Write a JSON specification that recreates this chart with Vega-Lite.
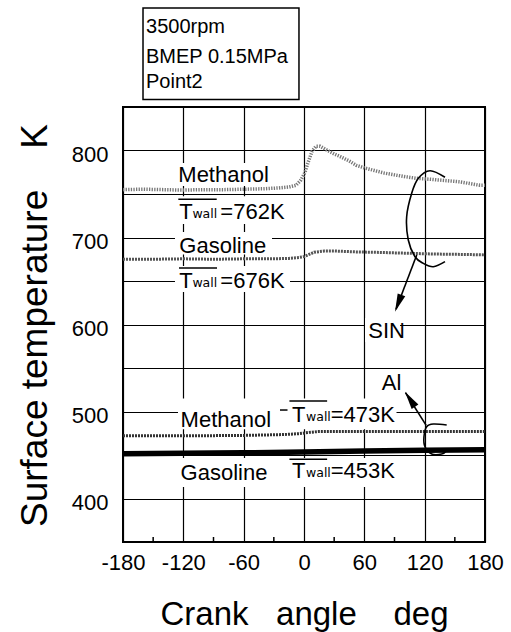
{
  "$schema": "https://vega.github.io/schema/vega-lite/v6.json",
  "width": 362,
  "height": 435,
  "autosize": {"type": "none"},
  "padding": {"left": 123, "top": 107, "right": 26, "bottom": 90},
  "background": "white",
  "config": {
    "view": {"stroke": "black", "strokeWidth": 2},
    "font": "Liberation Sans",
    "text": {"font": "Liberation Sans", "color": "black"}
  },
  "datasets": {
    "curves": [
      {"s": "MeSIN", "a": -180, "t": 755}, {"s": "MeSIN", "a": -160, "t": 755.5}, {"s": "MeSIN", "a": -140, "t": 755}, {"s": "MeSIN", "a": -120, "t": 754.5}, {"s": "MeSIN", "a": -100, "t": 755}, {"s": "MeSIN", "a": -80, "t": 755}, {"s": "MeSIN", "a": -60, "t": 755.5}, {"s": "MeSIN", "a": -40, "t": 756}, {"s": "MeSIN", "a": -25, "t": 757}, {"s": "MeSIN", "a": -15, "t": 758}, {"s": "MeSIN", "a": -8, "t": 760}, {"s": "MeSIN", "a": -3, "t": 766}, {"s": "MeSIN", "a": 1, "t": 775}, {"s": "MeSIN", "a": 4, "t": 786}, {"s": "MeSIN", "a": 8, "t": 799}, {"s": "MeSIN", "a": 12, "t": 805}, {"s": "MeSIN", "a": 16, "t": 805}, {"s": "MeSIN", "a": 22, "t": 801}, {"s": "MeSIN", "a": 30, "t": 796}, {"s": "MeSIN", "a": 36, "t": 793}, {"s": "MeSIN", "a": 45, "t": 788}, {"s": "MeSIN", "a": 52, "t": 783}, {"s": "MeSIN", "a": 60, "t": 780}, {"s": "MeSIN", "a": 70, "t": 777}, {"s": "MeSIN", "a": 80, "t": 774}, {"s": "MeSIN", "a": 90, "t": 772}, {"s": "MeSIN", "a": 100, "t": 770}, {"s": "MeSIN", "a": 112, "t": 768}, {"s": "MeSIN", "a": 125, "t": 767}, {"s": "MeSIN", "a": 135, "t": 766}, {"s": "MeSIN", "a": 145, "t": 765}, {"s": "MeSIN", "a": 155, "t": 764}, {"s": "MeSIN", "a": 165, "t": 762}, {"s": "MeSIN", "a": 175, "t": 760}, {"s": "MeSIN", "a": 180, "t": 760},
      {"s": "GaSIN", "a": -180, "t": 675}, {"s": "GaSIN", "a": -150, "t": 675}, {"s": "GaSIN", "a": -120, "t": 675.5}, {"s": "GaSIN", "a": -90, "t": 675}, {"s": "GaSIN", "a": -60, "t": 675.5}, {"s": "GaSIN", "a": -30, "t": 675.5}, {"s": "GaSIN", "a": -15, "t": 676}, {"s": "GaSIN", "a": -5, "t": 677}, {"s": "GaSIN", "a": 0, "t": 678}, {"s": "GaSIN", "a": 5, "t": 680.5}, {"s": "GaSIN", "a": 10, "t": 683}, {"s": "GaSIN", "a": 20, "t": 684.5}, {"s": "GaSIN", "a": 30, "t": 684.5}, {"s": "GaSIN", "a": 50, "t": 683.5}, {"s": "GaSIN", "a": 70, "t": 683}, {"s": "GaSIN", "a": 100, "t": 682}, {"s": "GaSIN", "a": 130, "t": 681}, {"s": "GaSIN", "a": 160, "t": 680.5}, {"s": "GaSIN", "a": 180, "t": 680},
      {"s": "MeAl", "a": -180, "t": 472}, {"s": "MeAl", "a": -120, "t": 472}, {"s": "MeAl", "a": -60, "t": 472.5}, {"s": "MeAl", "a": -20, "t": 473.5}, {"s": "MeAl", "a": -5, "t": 474.5}, {"s": "MeAl", "a": 5, "t": 476}, {"s": "MeAl", "a": 15, "t": 477}, {"s": "MeAl", "a": 60, "t": 477}, {"s": "MeAl", "a": 120, "t": 477}, {"s": "MeAl", "a": 180, "t": 477},
      {"s": "GaAl", "a": -180, "t": 451.5}, {"s": "GaAl", "a": -120, "t": 452}, {"s": "GaAl", "a": -60, "t": 452.5}, {"s": "GaAl", "a": 0, "t": 453.5}, {"s": "GaAl", "a": 60, "t": 454.5}, {"s": "GaAl", "a": 120, "t": 455.5}, {"s": "GaAl", "a": 180, "t": 456}
    ],
    "minorticks": [{"a": -150}, {"a": -90}, {"a": -30}, {"a": 30}, {"a": 90}, {"a": 150}],
    "bgboxes": [
      {"a": -128.3, "a2": -28.8, "t": 785.6, "t2": 759.2},
      {"a": -128.3, "a2": -13.9, "t": 747.5, "t2": 715.5},
      {"a": -128.3, "a2": -31.8, "t": 706.3, "t2": 680.5},
      {"a": -128.3, "a2": -13.9, "t": 667.2, "t2": 637.4},
      {"a": -125.3, "a2": 92.0, "t": 515.0, "t2": 479.5},
      {"a": -125.3, "a2": 92.0, "t": 446.6, "t2": 413.2},
      {"a": 60.7, "a2": 95.5, "t": 607.5, "t2": 579.9},
      {"a": 74.6, "a2": 97.5, "t": 543.1, "t2": 520.1}
    ],
    "overlines": [
      {"a": -125.0, "a2": -86.8, "t": 743.9},
      {"a": -124.3, "a2": -86.5, "t": 664.9},
      {"a": -14.5, "a2": 23.0, "t": 512.1},
      {"a": -14.5, "a2": 23.0, "t": 445.0},
      {"a": -23.9, "a2": -16.4, "t": 501.7}
    ],
    "paths": [
      {"p": "loopSIN", "i": 0, "a": 140.2, "t": 769.2}, {"p": "loopSIN", "i": 1, "a": 125.3, "t": 776.8}, {"p": "loopSIN", "i": 2, "a": 113.7, "t": 768.0}, {"p": "loopSIN", "i": 3, "a": 107.1, "t": 750.8}, {"p": "loopSIN", "i": 4, "a": 102.1, "t": 723.9}, {"p": "loopSIN", "i": 5, "a": 103.7, "t": 697.1}, {"p": "loopSIN", "i": 6, "a": 110.4, "t": 677.9}, {"p": "loopSIN", "i": 7, "a": 118.6, "t": 670.3}, {"p": "loopSIN", "i": 8, "a": 128.6, "t": 666.4}, {"p": "loopSIN", "i": 9, "a": 140.2, "t": 672.2},
      {"p": "arrowSIN", "i": 0, "a": 112.1, "t": 679.9}, {"p": "arrowSIN", "i": 1, "a": 91.5, "t": 617.5},
      {"p": "loopAl", "i": 0, "a": 141.9, "t": 484.5}, {"p": "loopAl", "i": 1, "a": 128.6, "t": 485.6}, {"p": "loopAl", "i": 2, "a": 122.0, "t": 482.5}, {"p": "loopAl", "i": 3, "a": 119.3, "t": 471.0}, {"p": "loopAl", "i": 4, "a": 120.3, "t": 459.5}, {"p": "loopAl", "i": 5, "a": 127.0, "t": 451.1}, {"p": "loopAl", "i": 6, "a": 136.9, "t": 451.1}, {"p": "loopAl", "i": 7, "a": 141.9, "t": 455.0},
      {"p": "arrowAl", "i": 0, "a": 121.5, "t": 484.0}, {"p": "arrowAl", "i": 1, "a": 101.0, "t": 521.5}
    ],
    "bigtext": [
      {"label": "Methanol", "a": -125.0, "t": 764.1},
      {"label": "T", "a": -124.0, "t": 721.0},
      {"label": "=762K", "a": -83.2, "t": 721.0},
      {"label": "Gasoline", "a": -124.0, "t": 681.8},
      {"label": "T", "a": -124.0, "t": 641.6},
      {"label": "=676K", "a": -83.2, "t": 641.6},
      {"label": "SIN", "a": 63.9, "t": 584.1},
      {"label": "Al", "a": 77.3, "t": 524.7},
      {"label": "Methanol", "a": -122.7, "t": 482.5},
      {"label": "T", "a": -12.0, "t": 488.3},
      {"label": "=473K", "a": 26.5, "t": 488.3},
      {"label": "Gasoline", "a": -122.7, "t": 421.3},
      {"label": "T", "a": -12.0, "t": 423.2},
      {"label": "=453K", "a": 26.5, "t": 423.2}
    ],
    "smalltext": [
      {"label": "wall", "a": -111.0, "t": 722.5},
      {"label": "wall", "a": -111.0, "t": 643.0},
      {"label": "wall", "a": 2.0, "t": 489.2},
      {"label": "wall", "a": 2.0, "t": 424.4}
    ],
    "header": [{"a": -160.1, "a2": -5.0, "t": 858.6, "t2": 963.8}],
    "headertext": [
      {"label": "3500rpm", "a": -157.1, "t": 934.7},
      {"label": "BMEP 0.15MPa", "a": -157.1, "t": 900.2},
      {"label": "Point2", "a": -157.1, "t": 871.5}
    ]
  },
  "layer": [
    {
      "data": {"name": "bgboxes"},
      "mark": {"type": "rect", "fill": "white", "stroke": null},
      "encoding": {
        "x": {
          "field": "a", "type": "quantitative",
          "scale": {"domain": [-180, 180], "nice": false, "zero": false},
          "axis": {
            "values": [-180, -120, -60, 0, 60, 120, 180],
            "grid": true, "gridColor": "black", "gridWidth": 1.2, "gridOpacity": 1,
            "ticks": false,
            "labelExpr": "'' + datum.value",
            "labelFont": "Liberation Sans", "labelFontSize": 22, "labelColor": "black",
            "labelPadding": 10, "labelOverlap": false, "labelFlush": false,
            "domain": false,
            "title": "Crank\u00a0\u00a0\u00a0angle\u00a0\u00a0\u00a0\u00a0deg",
            "titleFont": "Liberation Sans", "titleFontSize": 33, "titleFontWeight": "normal", "titleColor": "black",
            "titleBaseline": "alphabetic", "titleY": 82
          }
        },
        "x2": {"field": "a2"},
        "y": {
          "field": "t", "type": "quantitative",
          "scale": {"domain": [350, 850], "nice": false, "zero": false},
          "axis": {
            "values": [400, 450, 500, 550, 600, 650, 700, 750, 800],
            "grid": true, "gridColor": "black", "gridWidth": 1.2, "gridOpacity": 1,
            "ticks": false,
            "labelExpr": "datum.value % 100 == 0 ? datum.label : ''",
            "labelFont": "Liberation Sans", "labelFontSize": 22, "labelColor": "black",
            "labelPadding": 15, "labelOffset": 4, "labelOverlap": false, "labelFlush": false,
            "domain": false,
            "title": "Surface temperature\u00a0\u00a0\u00a0\u00a0K",
            "titleFont": "Liberation Sans", "titleFontSize": 37, "titleFontWeight": "normal", "titleColor": "black",
            "titleBaseline": "alphabetic", "titleX": -77, "titleY": 218, "titleAlign": "center", "titleAngle": 270
          }
        },
        "y2": {"field": "t2"}
      }
    },
    {
      "data": {"name": "minorticks"},
      "mark": {"type": "tick", "orient": "vertical", "size": 10, "thickness": 1.5, "color": "black", "opacity": 1, "clip": true},
      "encoding": {"x": {"field": "a", "type": "quantitative"}, "y": {"datum": 350, "type": "quantitative"}}
    },
    {
      "data": {"name": "curves"},
      "transform": [{"filter": "datum.s == 'MeSIN'"}],
      "mark": {"type": "line", "color": "#777777", "strokeWidth": 3.5, "strokeDash": [1.3, 1.3]},
      "encoding": {"x": {"field": "a", "type": "quantitative"}, "y": {"field": "t", "type": "quantitative"}}
    },
    {
      "data": {"name": "curves"},
      "transform": [{"filter": "datum.s == 'GaSIN'"}],
      "mark": {"type": "line", "color": "#555555", "strokeWidth": 3, "strokeDash": [2, 1]},
      "encoding": {"x": {"field": "a", "type": "quantitative"}, "y": {"field": "t", "type": "quantitative"}}
    },
    {
      "data": {"name": "curves"},
      "transform": [{"filter": "datum.s == 'MeAl'"}],
      "mark": {"type": "line", "color": "#333333", "strokeWidth": 3, "strokeDash": [2, 1]},
      "encoding": {"x": {"field": "a", "type": "quantitative"}, "y": {"field": "t", "type": "quantitative"}}
    },
    {
      "data": {"name": "curves"},
      "transform": [{"filter": "datum.s == 'GaAl'"}],
      "mark": {"type": "line", "color": "black", "strokeWidth": 5.5},
      "encoding": {"x": {"field": "a", "type": "quantitative"}, "y": {"field": "t", "type": "quantitative"}}
    },
    {
      "data": {"name": "overlines"},
      "mark": {"type": "rule", "color": "black", "strokeWidth": 1.5},
      "encoding": {"x": {"field": "a", "type": "quantitative"}, "x2": {"field": "a2"}, "y": {"field": "t", "type": "quantitative"}}
    },
    {
      "data": {"name": "paths"},
      "mark": {"type": "line", "color": "black", "strokeWidth": 1.6, "interpolate": "cardinal"},
      "encoding": {
        "x": {"field": "a", "type": "quantitative"},
        "y": {"field": "t", "type": "quantitative"},
        "order": {"field": "i", "type": "quantitative"},
        "detail": {"field": "p", "type": "nominal"}
      }
    },
    {
      "data": {"values": [{"a": 90.5, "t": 614.7}]},
      "mark": {"type": "point", "shape": "M0,0L0.45,2L-0.45,2Z", "filled": true, "color": "black", "opacity": 1, "size": 324, "angle": 201},
      "encoding": {"x": {"field": "a", "type": "quantitative"}, "y": {"field": "t", "type": "quantitative"}}
    },
    {
      "data": {"values": [{"a": 100.4, "t": 522.7}]},
      "mark": {"type": "point", "shape": "M0,0L0.45,2L-0.45,2Z", "filled": true, "color": "black", "opacity": 1, "size": 324, "angle": 326},
      "encoding": {"x": {"field": "a", "type": "quantitative"}, "y": {"field": "t", "type": "quantitative"}}
    },
    {
      "data": {"name": "bigtext"},
      "mark": {"type": "text", "font": "Liberation Sans", "fontSize": 22, "align": "left", "baseline": "alphabetic", "color": "black"},
      "encoding": {"x": {"field": "a", "type": "quantitative"}, "y": {"field": "t", "type": "quantitative"}, "text": {"field": "label"}}
    },
    {
      "data": {"name": "smalltext"},
      "mark": {"type": "text", "font": "DejaVu Sans", "fontSize": 12.5, "align": "left", "baseline": "alphabetic", "color": "black"},
      "encoding": {"x": {"field": "a", "type": "quantitative"}, "y": {"field": "t", "type": "quantitative"}, "text": {"field": "label"}}
    },
    {
      "data": {"name": "header"},
      "mark": {"type": "rect", "fill": "white", "stroke": "black", "strokeWidth": 1.5},
      "encoding": {"x": {"field": "a", "type": "quantitative"}, "x2": {"field": "a2"}, "y": {"field": "t", "type": "quantitative"}, "y2": {"field": "t2"}}
    },
    {
      "data": {"name": "headertext"},
      "mark": {"type": "text", "font": "Liberation Sans", "fontSize": 20, "align": "left", "baseline": "alphabetic", "color": "black"},
      "encoding": {"x": {"field": "a", "type": "quantitative"}, "y": {"field": "t", "type": "quantitative"}, "text": {"field": "label"}}
    }
  ]
}
